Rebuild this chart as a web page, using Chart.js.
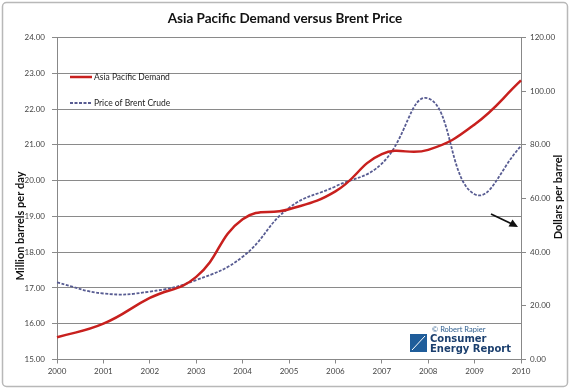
<!DOCTYPE html>
<html>
<head>
<meta charset="utf-8">
<script src="https://cdn.jsdelivr.net/npm/chart.js@4.4.0/dist/chart.umd.min.js"></script>
<style>
  html, body { margin: 0; padding: 0; background: #fff; }
  #wrap { width: 570px; height: 389px; position: relative; }
</style>
</head>
<body>
<div id="wrap"><canvas id="chart"></canvas></div>
<script>
// values
const years = ['2000', '2001', '2002', '2003', '2004', '2005', '2006', '2007', '2008', '2009', '2010'];
const demand = [15.62, 16.0, 16.72, 17.31, 18.92, 19.2, 19.7, 20.74, 20.86, 21.57, 22.8]; // Million barrels per day
const brent = [28.7, 24.6, 25.3, 29.6, 38.3, 56.5, 64.5, 73.0, 97.3, 61.6, 79.5];      // Dollars per barrel
const leftTicks = [15, 16, 17, 18, 19, 20, 21, 22, 23, 24];
const rightTicks = [0, 20, 40, 60, 80, 100, 120];

const FONT = 'Lato, "Open Sans", sans-serif';
const RED = '#c8201e';
const BLUE = '#585c92';

// frame, legend, axis titles, arrow and logo
const extras = {
  id: 'extras',
  beforeDraw(chart) {
    const ctx = chart.ctx;
    ctx.save();
    ctx.fillStyle = '#fff';
    ctx.fillRect(0, 0, chart.width, chart.height);
    ctx.strokeStyle = '#b8b8b8';
    ctx.lineWidth = 1.5;
    ctx.beginPath();
    ctx.roundRect(2.5, 2.5, chart.width - 5, chart.height - 5, 4);
    ctx.stroke();
    ctx.restore();
  },
  afterDraw(chart) {
    const ctx = chart.ctx;
    const ds = chart.data.datasets;
    ctx.save();

    // legend
    ctx.font = '8.5px ' + FONT;
    ctx.textBaseline = 'middle';
    ctx.fillStyle = '#222';
    ctx.lineWidth = 2.5;
    ctx.strokeStyle = RED;
    ctx.beginPath(); ctx.moveTo(70, 77); ctx.lineTo(92, 77); ctx.stroke();
    ctx.fillText(ds[0].label, 94, 77);
    ctx.lineWidth = 1.8;
    ctx.strokeStyle = BLUE;
    ctx.setLineDash([3, 1.5]);
    ctx.beginPath(); ctx.moveTo(70, 103); ctx.lineTo(92, 103); ctx.stroke();
    ctx.setLineDash([]);
    ctx.fillText(ds[1].label, 94, 103);

    // axis titles
    ctx.font = 'bold 11px ' + FONT;
    ctx.fillStyle = '#111';
    ctx.textAlign = 'center';
    ctx.save();
    ctx.translate(20, 226);
    ctx.rotate(-Math.PI / 2);
    ctx.fillText('Million barrels per day', 0, 0);
    ctx.restore();
    ctx.save();
    ctx.translate(558, 197);
    ctx.rotate(-Math.PI / 2);
    ctx.fillText('Dollars per barrel', 0, 0);
    ctx.restore();

    // arrow pointing at the right axis
    ctx.strokeStyle = '#111';
    ctx.fillStyle = '#111';
    ctx.lineWidth = 1.8;
    ctx.beginPath(); ctx.moveTo(491, 214); ctx.lineTo(512, 224); ctx.stroke();
    ctx.beginPath();
    ctx.moveTo(518, 227);
    ctx.lineTo(508.5, 226.5);
    ctx.lineTo(512.5, 219.5);
    ctx.closePath();
    ctx.fill();

    // logo
    ctx.fillStyle = '#fff';
    ctx.fillRect(407, 325, 106, 32);
    ctx.fillStyle = '#2f5f8f';
    ctx.font = '7.5px ' + FONT;
    ctx.textAlign = 'left';
    ctx.fillText('\u00a9 Robert Rapier', 432, 330);
    ctx.fillStyle = '#1f5d9a';
    ctx.fillRect(410, 334, 17, 18);
    ctx.strokeStyle = '#fff';
    ctx.lineWidth = 1;
    ctx.beginPath(); ctx.moveTo(412, 350); ctx.lineTo(425, 336); ctx.stroke();
    ctx.fillStyle = '#1b3f6e';
    ctx.font = 'bold 10px "DejaVu Sans", sans-serif';
    ctx.fillText('Consumer', 430, 339);
    ctx.fillText('Energy Report', 430, 349);
    ctx.restore();
  }
};

new Chart(document.getElementById('chart'), {
  type: 'line',
  data: {
    labels: years,
    datasets: [
      {
        label: 'Asia Pacific Demand',
        data: demand,
        yAxisID: 'y',
        borderColor: RED,
        borderWidth: 2.5,
        pointRadius: 0,
        tension: 0.45,
        fill: false
      },
      {
        label: 'Price of Brent Crude',
        data: brent,
        yAxisID: 'y1',
        borderColor: BLUE,
        borderWidth: 1.8,
        borderDash: [3, 1.5],
        pointRadius: 0,
        tension: 0.45,
        fill: false
      }
    ]
  },
  options: {
    responsive: true,
    maintainAspectRatio: false,
    animation: false,
    layout: { padding: 0 },
    plugins: {
      legend: { display: false },
      tooltip: { enabled: false },
      title: {
        display: true,
        text: 'Asia Pacific Demand versus Brent Price',
        color: '#111',
        font: { family: FONT, size: 13.5, weight: 'bold', lineHeight: 1.2 },
        padding: { top: 11, bottom: 10.3 }
      }
    },
    scales: {
      x: {
        type: 'category',
        offset: false,
        grid: { display: true, drawOnChartArea: false, color: '#888', tickLength: 4 },
        border: { display: true, color: '#888' },
        ticks: { color: '#444', font: { family: FONT, size: 8 }, padding: 3, maxRotation: 0, autoSkip: false },
        afterFit(scale) { scale.height = 29.5; }
      },
      y: {
        position: 'left',
        min: 15,
        max: 24,
        afterBuildTicks(scale) { scale.ticks = leftTicks.map(v => ({ value: v })); },
        grid: { color: '#8a8a8a', lineWidth: 1, tickLength: 5 },
        border: { display: true, color: '#888' },
        ticks: {
          color: '#444',
          font: { family: FONT, size: 8 },
          padding: 7,
          callback: v => Number(v).toFixed(2)
        },
        afterFit(scale) { scale.width = 57; }
      },
      y1: {
        position: 'right',
        min: 0,
        max: 120,
        afterBuildTicks(scale) { scale.ticks = rightTicks.map(v => ({ value: v })); },
        grid: { drawOnChartArea: false, color: '#888', tickLength: 5 },
        border: { display: true, color: '#888' },
        ticks: {
          color: '#444',
          font: { family: FONT, size: 8 },
          padding: 4,
          callback: v => Number(v).toFixed(2)
        },
        afterFit(scale) { scale.width = 49; }
      }
    }
  },
  plugins: [extras]
});
</script>
</body>
</html>
